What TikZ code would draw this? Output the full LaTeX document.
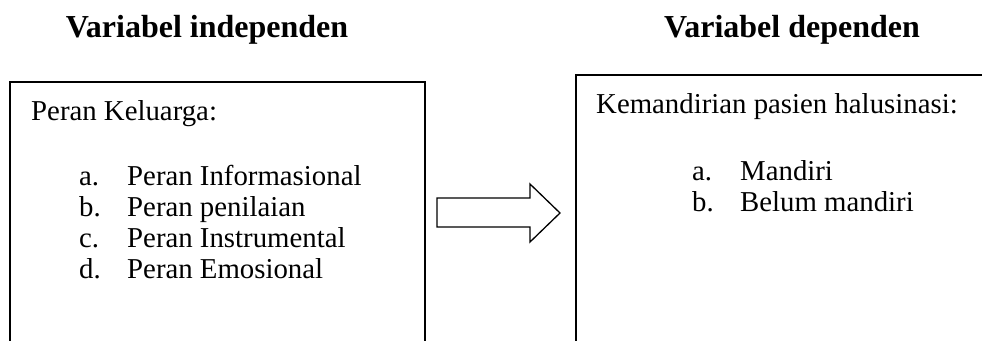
\documentclass[tikz,border=0pt]{standalone}
\usepackage{fontspec}
\setmainfont{Liberation Serif}
\begin{document}
\begin{tikzpicture}[x=1pt,y=-1pt,
  body/.style={anchor=base west,inner sep=0pt,font=\fontsize{28.8}{34}\selectfont},
  heading/.style={anchor=base,inner sep=0pt,font=\fontsize{32}{38}\selectfont\bfseries},
  frame/.style={line width=2pt},
  blockarrow/.style={line width=1.3pt,line join=miter}]
\useasboundingbox (0,0) rectangle (982,340);

% headings
\node[heading] (hIndep) at (207,37) {Variabel independen};
\node[heading] (hDep) at (792,37) {Variabel dependen};

% left frame (runs off the lower edge)
\draw[frame] (10,345) |- (425,82) -- (425,345);
\node[body] (kel) at (31,120) {Peran Keluarga:};
\node[body] (la) at (79,185) {a.};
\node[body] (ta) at (127,185) {Peran Informasional};
\node[body] (lb) at (79,216) {b.};
\node[body] (tb) at (127,216) {Peran penilaian};
\node[body] (lc) at (79,247) {c.};
\node[body] (tc) at (127,247) {Peran Instrumental};
\node[body] (ld) at (79,278) {d.};
\node[body] (td) at (127,278) {Peran Emosional};

% right frame (runs off the right and lower edges)
\draw[frame] (576,345) |- (990,75);
\node[body] (kem) at (596,113) {Kemandirian pasien halusinasi:};
\node[body] (ra) at (692,180) {a.};
\node[body] (rta) at (740,180) {Mandiri};
\node[body] (rb) at (692,211) {b.};
\node[body] (rtb) at (740,211) {Belum mandiri};

% hollow block arrow between the frames
\draw[blockarrow] (437,198) -- (530,198) -- (530,184) -- (560,213)
  -- (530,242) -- (530,227) -- (437,227) -- cycle;
\end{tikzpicture}
\end{document}
